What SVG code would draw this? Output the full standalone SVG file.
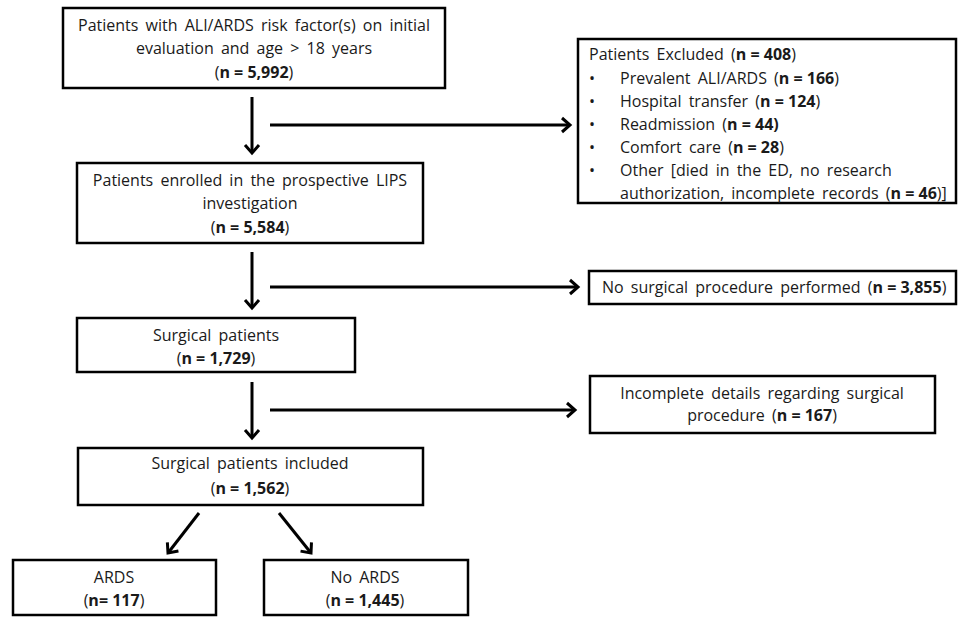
<svg xmlns="http://www.w3.org/2000/svg" width="959" height="618" viewBox="0 0 959 618">
<defs>
<style>
.box{fill:#fff;stroke:#000;stroke-width:2.5}
text{font-family:"Open Sans","Liberation Sans",Arial,sans-serif;font-size:16px;word-spacing:3px;fill:#1a1a1a}
.c{text-anchor:middle}
.b{font-weight:bold;word-spacing:0}
.conn{stroke:#000;stroke-width:3;fill:none}
</style>
<marker id="ah" markerWidth="10" markerHeight="10" refX="7" refY="5" orient="auto" markerUnits="userSpaceOnUse" viewBox="0 0 10 10" overflow="visible">
<path d="M-1,-2 L7,5 L-1,12" fill="none" stroke="#000" stroke-width="3"/>
</marker>
</defs>
<rect width="959" height="618" fill="#fff"/>
<g id="connectors">
<line class="conn" x1="252" y1="97" x2="252" y2="153" marker-end="url(#ah)"/>
<line class="conn" x1="270" y1="125" x2="570" y2="125" marker-end="url(#ah)"/>
<line class="conn" x1="252" y1="252" x2="252" y2="308" marker-end="url(#ah)"/>
<line class="conn" x1="270" y1="287" x2="578" y2="287" marker-end="url(#ah)"/>
<line class="conn" x1="252" y1="382" x2="252" y2="438" marker-end="url(#ah)"/>
<line class="conn" x1="270" y1="410" x2="575" y2="410" marker-end="url(#ah)"/>
<line class="conn" x1="199" y1="513" x2="168" y2="553" marker-end="url(#ah)"/>
<line class="conn" x1="279" y1="513" x2="311" y2="553" marker-end="url(#ah)"/>
</g>
<g id="n1">
<rect class="box" x="63" y="8" width="382" height="80"/>
<text class="c" x="254" y="31">Patients with ALI/ARDS risk factor(s) on initial</text>
<text class="c" x="254" y="54">evaluation and age &gt; 18 years</text>
<text class="c" x="254" y="78">(<tspan class="b">n = 5,992</tspan>)</text>
</g>
<g id="excluded">
<rect class="box" x="578" y="39" width="378" height="164"/>
<text x="589" y="60">Patients Excluded (<tspan class="b">n = 408</tspan>)</text>
<text x="589" y="84">•</text><text x="620" y="84">Prevalent ALI/ARDS (<tspan class="b">n = 166</tspan>)</text>
<text x="589" y="107">•</text><text x="620" y="107">Hospital transfer  (<tspan class="b">n = 124</tspan>)</text>
<text x="589" y="130">•</text><text x="620" y="130">Readmission  (<tspan class="b">n = 44)</tspan></text>
<text x="589" y="153">•</text><text x="620" y="153">Comfort care (<tspan class="b">n = 28</tspan>)</text>
<text x="589" y="176">•</text><text x="620" y="176">Other [died in the ED, no research</text>
<text x="620" y="199">authorization,  incomplete records (<tspan class="b">n = 46</tspan>)]</text>
</g>
<g id="n2">
<rect class="box" x="77" y="163" width="346" height="80"/>
<text class="c" x="250" y="186">Patients enrolled in the prospective LIPS</text>
<text class="c" x="250" y="209">investigation</text>
<text class="c" x="250" y="233">(<tspan class="b">n = 5,584</tspan>)</text>
</g>
<g id="nosurg">
<rect class="box" x="589" y="271" width="367" height="33"/>
<text x="602" y="293">No surgical procedure performed  (<tspan class="b">n = 3,855</tspan>)</text>
</g>
<g id="n3">
<rect class="box" x="77" y="318" width="278" height="54"/>
<text class="c" x="216" y="341">Surgical patients</text>
<text class="c" x="216" y="364">(<tspan class="b">n = 1,729</tspan>)</text>
</g>
<g id="incomplete">
<rect class="box" x="590" y="376" width="345" height="57"/>
<text class="c" x="762" y="399">Incomplete details regarding surgical</text>
<text class="c" x="762" y="421">procedure  (<tspan class="b">n = 167</tspan>)</text>
</g>
<g id="n4">
<rect class="box" x="78" y="448" width="345" height="57"/>
<text class="c" x="250" y="469">Surgical patients  included</text>
<text class="c" x="250" y="494">(<tspan class="b">n = 1,562</tspan>)</text>
</g>
<g id="ards">
<rect class="box" x="13" y="560" width="203" height="55"/>
<text class="c" x="114" y="583">ARDS</text>
<text class="c" x="114" y="606">(<tspan class="b">n= 117</tspan>)</text>
</g>
<g id="noards">
<rect class="box" x="264" y="560" width="204" height="55"/>
<text class="c" x="365" y="583">No ARDS</text>
<text class="c" x="365" y="606">(<tspan class="b">n = 1,445</tspan>)</text>
</g>
</svg>
